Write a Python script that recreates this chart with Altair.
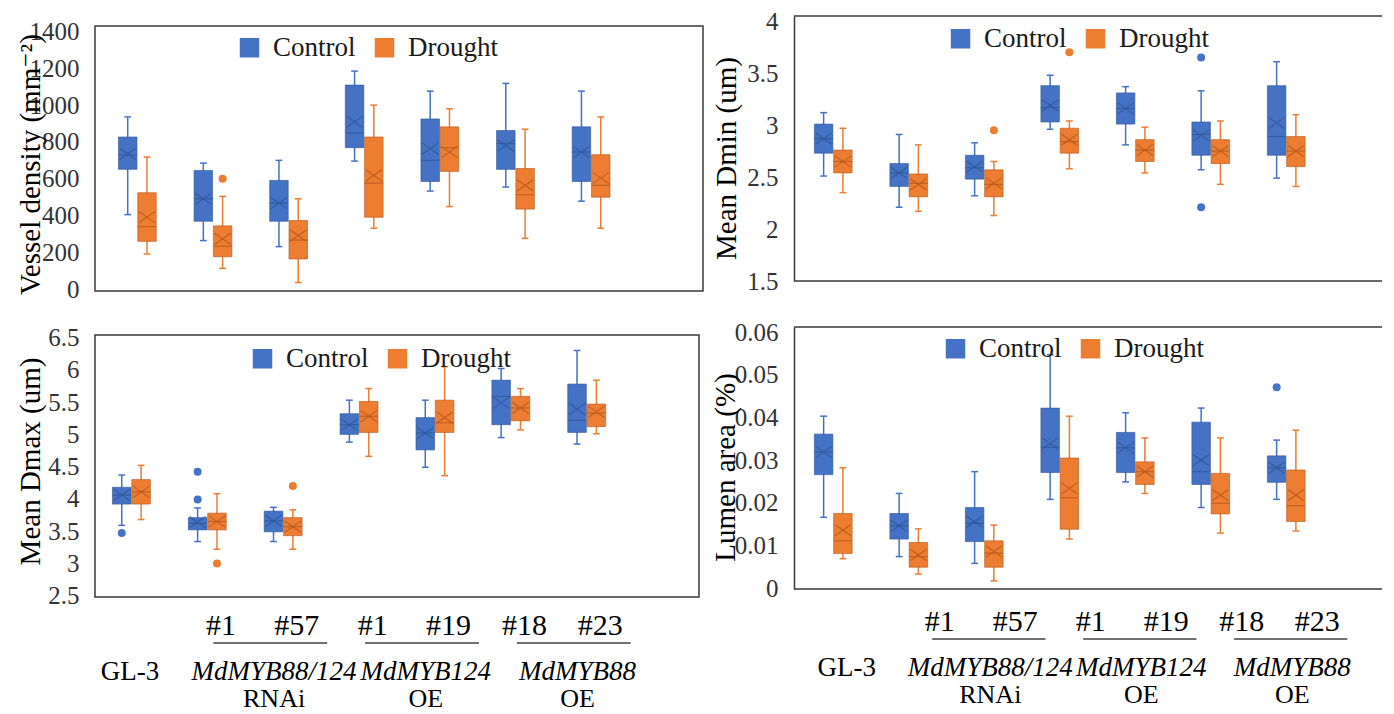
import altair as alt
import pandas as pd

SERIF = "Liberation Serif, Times New Roman, Times, DejaVu Serif, serif"
CONDITIONS = ["Control", "Drought"]
FILL = ["#4472C4", "#ED7D31"]
DARK = ["#2F5597", "#B4571C"]
FRAME = "#3A3A3A"
TICK_COLOR = "#333333"

LINES = ["GL-3", "RNAi #1", "RNAi #57", "MdMYB124 OE #1", "MdMYB124 OE #19",
         "MdMYB88 OE #18", "MdMYB88 OE #23"]

# each row: [lower whisker, Q1, median, Q3, upper whisker, mean], one row per line
VD_CONTROL = [
    [405, 651, 730, 827, 936, 735],
    [264, 369, 491, 645, 685, 491],
    [231, 369, 467, 591, 700, 467],
    [696, 769, 849, 1109, 1185, 909],
    [533, 585, 700, 925, 1076, 764],
    [555, 651, 791, 862, 1118, 780],
    [478, 585, 745, 882, 1076, 745],
]
VD_DROUGHT = [
    [191, 260, 340, 524, 718, 391],
    [113, 176, 233, 344, 504, 273],
    [36, 164, 267, 373, 491, 291],
    [331, 391, 576, 827, 1000, 618],
    [449, 640, 769, 882, 980, 745],
    [276, 435, 513, 656, 869, 564],
    [331, 500, 564, 731, 936, 604],
]
VD_OUTLIERS = [(1, "Drought", 600)]

DMIN_CONTROL = [
    [2.51, 2.73, 2.87, 3.01, 3.12, 2.87],
    [2.21, 2.41, 2.54, 2.63, 2.91, 2.54],
    [2.32, 2.48, 2.59, 2.71, 2.83, 2.60],
    [2.96, 3.03, 3.17, 3.38, 3.48, 3.19],
    [2.81, 3.01, 3.16, 3.31, 3.37, 3.16],
    [2.57, 2.71, 2.91, 3.03, 3.33, 2.90],
    [2.49, 2.71, 2.89, 3.38, 3.61, 3.02],
]
DMIN_DROUGHT = [
    [2.35, 2.54, 2.65, 2.76, 2.97, 2.65],
    [2.17, 2.31, 2.44, 2.53, 2.81, 2.43],
    [2.13, 2.31, 2.43, 2.57, 2.65, 2.44],
    [2.58, 2.73, 2.84, 2.97, 3.04, 2.86],
    [2.54, 2.65, 2.76, 2.86, 2.98, 2.76],
    [2.43, 2.63, 2.75, 2.86, 3.04, 2.75],
    [2.41, 2.60, 2.75, 2.89, 3.10, 2.75],
]
DMIN_OUTLIERS = [(2, "Drought", 2.95), (3, "Drought", 3.70),
                 (5, "Control", 3.65), (5, "Control", 2.21)]

DMAX_CONTROL = [
    [3.59, 3.92, 4.06, 4.18, 4.37, 4.06],
    [3.34, 3.52, 3.62, 3.71, 3.86, 3.64],
    [3.34, 3.49, 3.66, 3.81, 3.87, 3.66],
    [4.88, 5.00, 5.15, 5.32, 5.53, 5.15],
    [4.49, 4.76, 5.02, 5.26, 5.53, 5.02],
    [4.95, 5.15, 5.59, 5.84, 6.02, 5.49],
    [4.85, 5.03, 5.22, 5.78, 6.30, 5.39],
]
DMAX_DROUGHT = [
    [3.68, 3.92, 4.11, 4.30, 4.52, 4.11],
    [3.22, 3.52, 3.65, 3.78, 4.08, 3.65],
    [3.22, 3.43, 3.57, 3.71, 3.83, 3.57],
    [4.66, 5.03, 5.28, 5.51, 5.71, 5.28],
    [4.36, 5.03, 5.18, 5.53, 6.05, 5.26],
    [5.07, 5.21, 5.41, 5.59, 5.71, 5.41],
    [5.01, 5.12, 5.33, 5.47, 5.84, 5.35],
]
DMAX_OUTLIERS = [(0, "Control", 3.47), (1, "Control", 4.42), (1, "Control", 3.99),
                 (1, "Drought", 3.00), (2, "Drought", 4.20)]

LUMEN_CONTROL = [
    [0.0166, 0.0266, 0.0319, 0.0361, 0.0403, 0.0319],
    [0.0074, 0.0115, 0.0146, 0.0175, 0.0222, 0.0146],
    [0.0058, 0.0109, 0.0152, 0.0189, 0.0273, 0.0156],
    [0.0208, 0.0271, 0.0330, 0.0422, 0.0547, 0.0339],
    [0.0249, 0.0271, 0.0329, 0.0365, 0.0411, 0.0329],
    [0.0189, 0.0243, 0.0273, 0.0389, 0.0422, 0.0300],
    [0.0208, 0.0248, 0.0282, 0.0310, 0.0347, 0.0282],
]
LUMEN_DROUGHT = [
    [0.0069, 0.0081, 0.0111, 0.0175, 0.0282, 0.0136],
    [0.0033, 0.0049, 0.0074, 0.0107, 0.0139, 0.0078],
    [0.0017, 0.0049, 0.0082, 0.0111, 0.0148, 0.0086],
    [0.0115, 0.0138, 0.0212, 0.0305, 0.0403, 0.0234],
    [0.0222, 0.0243, 0.0273, 0.0296, 0.0352, 0.0273],
    [0.0129, 0.0174, 0.0199, 0.0269, 0.0352, 0.0218],
    [0.0134, 0.0156, 0.0193, 0.0277, 0.0370, 0.0218],
]
LUMEN_OUTLIERS = [(6, "Control", 0.0471)]

VD_TICKS = [0, 200, 400, 600, 800, 1000, 1200, 1400]
DMIN_TICKS = [1.5, 2, 2.5, 3, 3.5, 4]
DMAX_TICKS = [2.5, 3, 3.5, 4, 4.5, 5, 5.5, 6, 6.5]
LUMEN_TICKS = [0, 0.01, 0.02, 0.03, 0.04, 0.05, 0.06]

SUB_LABELS = ["#1", "#57", "#1", "#19", "#18", "#23"]
SUB_SLOTS = [1, 2, 3, 4, 5, 6]
FAMILY_NAMES = ["GL-3", "MdMYB88/124", "MdMYB124", "MdMYB88"]
FAMILY_KINDS = ["", "RNAi", "OE", "OE"]
FAMILY_FIRST = [0, 1, 3, 5]
FAMILY_LAST = [0, 2, 4, 6]

FC = f"datum.cond == 'Control' ? '{FILL[0]}' : '{FILL[1]}'"
DC = f"datum.cond == 'Control' ? '{DARK[0]}' : '{DARK[1]}'"
POS = "datum.slot + (datum.cond == 'Control' ? 0.27 : 0.525)"
XSHAPE = "M-1,-0.7L1,0.7M-1,0.7L1,-0.7"


def make_panel(control, drought, outliers, y_domain, y_ticks, y_title, title_x,
               title_y, width, height, x_domain, legend_x, legend_y,
               open_right=False, bottom=None):
    rows = []
    for cond, stats in zip(CONDITIONS, (control, drought)):
        for slot, s in enumerate(stats):
            rows.append(dict(line=LINES[slot], slot=slot, cond=cond, lo=s[0], q1=s[1],
                             med=s[2], q3=s[3], hi=s[4], mean=s[5]))
    box_df = pd.DataFrame(rows)
    out_df = pd.DataFrame(outliers, columns=["slot", "cond", "val"])

    xs = alt.Scale(domain=x_domain, nice=False, zero=False)
    ys = alt.Scale(domain=y_domain, nice=False, zero=False)
    yaxis = alt.Axis(values=y_ticks, format="~r", title=y_title, grid=False,
                     ticks=False, tickSize=0, domain=open_right, domainColor=FRAME,
                     domainWidth=1.5, labelPadding=16, labelFont=SERIF,
                     labelFontSize=25, labelColor=TICK_COLOR, titleFont=SERIF,
                     titleFontSize=29, titleFontWeight="normal", titleColor="black",
                     titleX=title_x, titleY=title_y, titleBaseline="middle")

    def X(f):
        return alt.X(f, type="quantitative", scale=xs, axis=None)

    def Y(f):
        return alt.Y(f, type="quantitative", scale=ys, axis=yaxis)

    base = (alt.Chart(box_df)
            .transform_calculate(left=POS, fc=FC, dc=DC)
            .transform_calculate(right="datum.left + 0.245",
                                 mid="datum.left + 0.1225",
                                 capl="datum.left + 0.0775",
                                 capr="datum.left + 0.1675"))
    fstroke = alt.Stroke("fc:N", scale=None)
    dstroke = alt.Stroke("dc:N", scale=None)

    whisker = base.mark_rule(strokeWidth=1.5).encode(
        x=X("mid"), y=Y("lo"), y2="hi", stroke=fstroke)
    cap_lo = base.mark_rule(strokeWidth=1.5).encode(
        x=X("capl"), x2="capr", y=Y("lo"), stroke=fstroke)
    cap_hi = base.mark_rule(strokeWidth=1.5).encode(
        x=X("capr"), x2="capl", y=Y("hi"), stroke=fstroke)
    box = base.mark_rect(strokeWidth=1, strokeOpacity=0.6).encode(
        x=X("left"), x2="right", y=Y("q1"), y2="q3",
        color=alt.Color("cond:N", scale=alt.Scale(domain=CONDITIONS, range=FILL),
                        legend=alt.Legend(orient="none", legendX=legend_x,
                                          legendY=legend_y, direction="horizontal",
                                          title=None, symbolType="square",
                                          symbolSize=380, symbolStrokeWidth=0,
                                          labelFont=SERIF, labelFontSize=27,
                                          labelColor="#1A1A1A", labelOffset=10,
                                          columnPadding=15, padding=0)),
        stroke=dstroke)
    median = base.mark_rule(strokeWidth=1.2, strokeOpacity=0.75).encode(
        x=X("left"), x2="right", y=Y("med"), stroke=dstroke)
    mean = base.mark_point(shape=XSHAPE, size=260, filled=False, strokeWidth=1.1,
                           opacity=0.8).encode(x=X("mid"), y=Y("mean"), stroke=dstroke)
    outl = (alt.Chart(out_df)
            .transform_calculate(left=POS, fc=FC)
            .transform_calculate(mid="datum.left + 0.1225")
            .mark_circle(size=64, opacity=1)
            .encode(x=X("mid"), y=Y("val"), fill=alt.Fill("fc:N", scale=None)))

    layers = [whisker, cap_lo, cap_hi, box, median, mean, outl]

    if open_right:
        frame_df = pd.DataFrame({"edge": ["top"]})
        layers.append(alt.Chart(frame_df).mark_rule(color=FRAME, strokeWidth=1.5).encode(
            x=alt.value(0), x2=alt.value(width), y=alt.value(0)))
        layers.append(alt.Chart(frame_df).mark_rule(color=FRAME, strokeWidth=1.5).encode(
            x=alt.value(0), x2=alt.value(width), y=alt.value(height)))

    if bottom:
        s = bottom["shift"]
        n = bottom["name_shift"]
        b = bottom["base"]
        sub_df = pd.DataFrame({"label": SUB_LABELS, "slot": SUB_SLOTS})
        fam_df = pd.DataFrame({"name": FAMILY_NAMES, "kind": FAMILY_KINDS,
                               "first": FAMILY_FIRST, "last": FAMILY_LAST})
        layers.append(
            alt.Chart(sub_df).transform_calculate(px=f"datum.slot + 0.5 + {s}")
            .mark_text(font=SERIF, fontSize=30, color="black", baseline="middle")
            .encode(x=X("px"), y=alt.value(height + b), text="label:N"))
        layers.append(
            alt.Chart(fam_df).transform_filter("datum.first != datum.last")
            .transform_calculate(lx=f"datum.first + 0.4 + {s}",
                                 rx=f"datum.last + 0.9 + {s}")
            .mark_rule(color="#404040", strokeWidth=1.5)
            .encode(x=X("lx"), x2="rx", y=alt.value(height + b + 17)))
        fam = alt.Chart(fam_df).transform_calculate(
            px=f"(datum.first + datum.last) / 2 + 0.5 + "
               f"(datum.first == datum.last ? 0 : 0.4) + {n}")
        layers.append(
            fam.transform_filter("datum.first == datum.last")
            .mark_text(font=SERIF, fontSize=27, color="black", baseline="middle")
            .encode(x=X("px"), y=alt.value(height + b + 46), text="name:N"))
        layers.append(
            fam.transform_filter("datum.first != datum.last")
            .mark_text(font=SERIF, fontSize=27, fontStyle="italic", color="black",
                       baseline="middle")
            .encode(x=X("px"), y=alt.value(height + b + 46), text="name:N"))
        layers.append(
            fam.transform_filter("datum.kind != ''")
            .mark_text(font=SERIF, fontSize=26, color="black", baseline="middle")
            .encode(x=X("px"), y=alt.value(height + b + 73), text="kind:N"))

    chart = alt.layer(*layers).properties(width=width, height=height)
    if open_right:
        chart = chart.properties(view=alt.ViewBackground(stroke="transparent"))
    return chart


RIGHT_W = 588
RIGHT_DOMAIN = [0, RIGHT_W / 75.5]

tl = make_panel(VD_CONTROL, VD_DROUGHT, VD_OUTLIERS, [-10, 1430], VD_TICKS,
                "Vessel density (mm\u207b\u00b2)", -65, 138, 608, 265, [-0.04, 8],
                141, 8)
tr = make_panel(DMIN_CONTROL, DMIN_DROUGHT, DMIN_OUTLIERS, [1.5, 4.05], DMIN_TICKS,
                "Mean Dmin (um)", -68, 142, RIGHT_W, 265, RIGHT_DOMAIN, 153, 9,
                open_right=True)
bl = make_panel(DMAX_CONTROL, DMAX_DROUGHT, DMAX_OUTLIERS, [2.48, 6.54], DMAX_TICKS,
                "Mean Dmax (um)", -65, 126, 604, 262, [0.04, 8], 154, 10,
                bottom={"shift": 0.2, "name_shift": 0.0, "base": 29})
br = make_panel(LUMEN_CONTROL, LUMEN_DROUGHT, LUMEN_OUTLIERS, [-0.0002, 0.0612],
                LUMEN_TICKS, "Lumen area (%)", -69, 140, RIGHT_W, 262, RIGHT_DOMAIN,
                148, 8, open_right=True,
                bottom={"shift": 0.43, "name_shift": 0.2, "base": 33})

spacer = (alt.Chart(pd.DataFrame({"s": [0]}))
          .mark_rule(opacity=0)
          .encode(x=alt.value(0), y=alt.value(0), y2=alt.value(1))
          .properties(width=1, height=1,
                      view=alt.ViewBackground(stroke="transparent")))

indep = dict(x="independent", y="independent", color="independent")
left_inner = alt.vconcat(tl, bl, spacing=21).resolve_scale(**indep)
left_col = alt.vconcat(spacer, left_inner, spacing=0).resolve_scale(**indep)
right_col = alt.vconcat(tr, br, spacing=24).resolve_scale(**indep)

chart = (alt.hconcat(left_col, right_col, spacing=6)
         .resolve_scale(**indep)
         .properties(padding={"left": 7, "top": 0, "right": 0, "bottom": 0})
         .configure_view(stroke=FRAME, strokeWidth=1.5))

chart.save("out.html", embed_options={"renderer": "svg", "actions": False})
